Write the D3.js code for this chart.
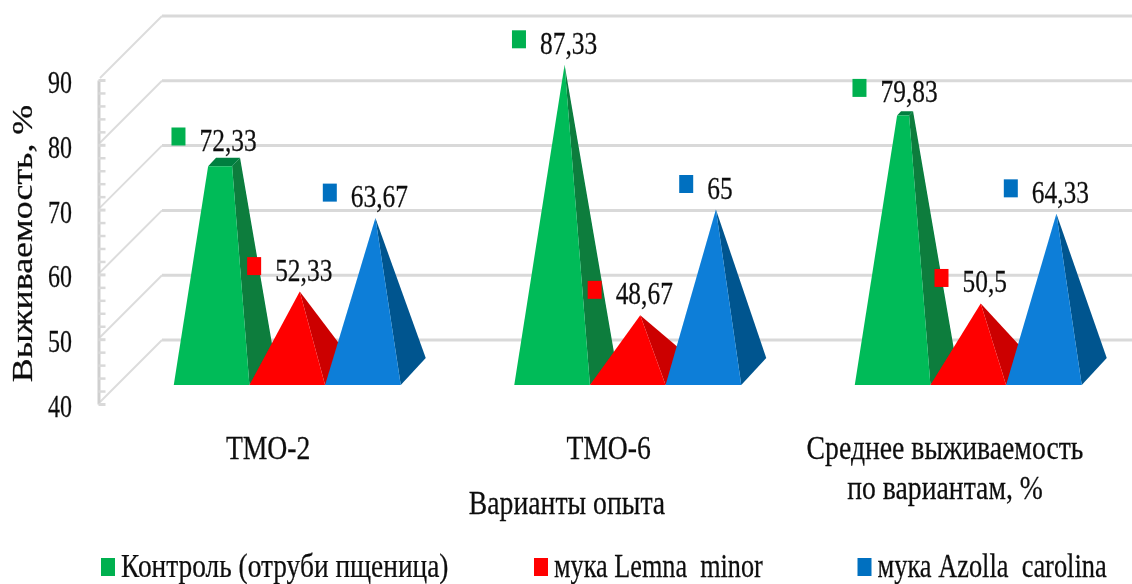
<!DOCTYPE html>
<html>
<head>
<meta charset="utf-8">
<script src="https://cdn.jsdelivr.net/npm/d3@7"></script>
<style>
  html, body { margin: 0; padding: 0; background: #fff; }
  svg { display: block; }
  text { font-family: "Liberation Serif", serif; fill: #111; stroke: #111; stroke-width: 0.25px; }
</style>
</head>
<body>
<svg class="chart"></svg>
<script>
// Datos del gráfico
var categories = ["ТМО-2", "ТМО-6", "Среднее выживаемость\nпо вариантам, %"];
var seriesNames = ["Контроль (отруби пщеница)", "мука Lemna  minor", "мука Azolla  carolina"];
var control = [72.33, 87.33, 79.83];
var lemna = [52.33, 48.67, 50.5];
var azolla = [63.67, 65, 64.33];
var yTicks = [40, 50, 60, 70, 80, 90];
var yMinorTicks = [42, 44, 46, 48, 52, 54, 56, 58, 62, 64, 66, 68, 72, 74, 76, 78, 82, 84, 86, 88];

var width = 1132, height = 584;
// El texto original está estirado en vertical: fuente grande y comprimida en X
var valueFont = 32, valueSqueeze = 0.795;
var tickFont = 32, tickSqueeze = 0.75;
var axisFont = 33, axisSqueeze = 0.84;
var legendFont = 33, legendSqueeze = [0.83, 0.795, 0.8];

var colors = [
  { front: "#05bb58", side: "#077d3d", top: "#067f3f", key: "#00b050" },
  { front: "#ff0000", side: "#cc0000", top: "#cc0000", key: "#ff0000" },
  { front: "#0a7ed8", side: "#02558f", top: "#02558f", key: "#0070c0" }
];

var svg = d3.select(".chart").attr("width", width).attr("height", height);

var defs = svg.append("defs");
defs.append("filter").attr("id", "soft")
  .attr("x", "-5%").attr("y", "-5%").attr("width", "110%").attr("height", "110%")
  .append("feGaussianBlur").attr("stdDeviation", 0.6);

var chart = svg.append("g").attr("filter", "url(#soft)");

// Escalas
var y = d3.scaleLinear().domain([40, 90]).range([404, 80]);
var x = d3.scaleBand().domain(categories).range([98, 1119.5]);
var xBar = d3.scaleBand().domain(d3.range(3)).range([x.bandwidth() / 6, x.bandwidth() * 5 / 6]);

// Profundidad de la pared y del suelo
var wallDepth = 64, floorInset = 19, barDepthX = 25, barDepthY = 27;

// Pared del fondo
chart.append("g").selectAll("line.grid")
  .data(yTicks)
  .enter().append("line")
    .attr("x1", 98 + wallDepth).attr("x2", width)
    .attr("y1", function(d) { return y(d) - wallDepth; })
    .attr("y2", function(d) { return y(d) - wallDepth; })
    .attr("stroke", "#d9d9d9").attr("stroke-width", 3);

chart.append("g").selectAll("line.wall")
  .data(yTicks)
  .enter().append("line")
    .attr("x1", 100).attr("x2", 98 + wallDepth)
    .attr("y1", function(d) { return y(d) - 2; })
    .attr("y2", function(d) { return y(d) - wallDepth; })
    .attr("stroke", "#dcdcdc").attr("stroke-width", 2);

// Eje Y: marcas menores, mayores y etiquetas
chart.append("g")
  .attr("transform", "translate(98.5,0)")
  .call(d3.axisRight(y).tickValues(yMinorTicks).tickSize(7).tickSizeOuter(0).tickFormat(""))
  .call(function(g) {
    g.selectAll("line").attr("stroke", "#d9d9d9").attr("stroke-width", 2.5);
    g.select(".domain").attr("stroke", "#cfcfcf").attr("stroke-width", 3);
  });

chart.append("g")
  .attr("transform", "translate(98.5,0)")
  .call(d3.axisRight(y).tickValues(yTicks).tickSize(7).tickFormat(""))
  .call(function(g) {
    g.selectAll("line").attr("stroke", "#d9d9d9").attr("stroke-width", 3);
    g.select(".domain").remove();
  });

chart.append("g").selectAll("text.ytick")
  .data(yTicks)
  .enter().append("text")
    .attr("text-anchor", "end")
    .attr("font-size", tickFont)
    .attr("transform", function(d) { return "translate(72," + (y(d) + 13) + ") scale(" + tickSqueeze + ",1)"; })
    .text(function(d) { return d; });

chart.append("text")
  .attr("text-anchor", "middle")
  .attr("font-size", 30)
  .attr("transform", "translate(32,243.5) rotate(-90) scale(1.195,1)")
  .text("Выживаемость, %");

// Pirámides: cada serie se dibuja entera, la siguiente tapa a la anterior
var seriesValues = [control, lemna, azolla];
var taperToSeriesMax = [true, false, false];
var polyLine = d3.line();

seriesValues.forEach(function(values, s) {
  var g = chart.append("g").attr("class", "series");
  var seriesMax = d3.max(values);

  values.forEach(function(v, c) {
    var baseY = y(40) - floorInset;
    var left = x(categories[c]) + floorInset + xBar(s);
    var w = xBar.bandwidth();
    var h = y(40) - y(v);
    var apexH = taperToSeriesMax[s] ? y(40) - y(seriesMax) : h;
    var t = h / apexH;

    // u: ancho (-1..1), d: fondo (-1 delante, 1 detrás), k: altura relativa
    function pt(u, d, k) {
      return [
        left + w / 2 + barDepthX / 2 + (1 - k) * (u * w / 2 + d * barDepthX / 2),
        baseY - barDepthY / 2 - apexH * k - (1 - k) * d * barDepthY / 2
      ];
    }

    g.append("path")
      .attr("d", polyLine([pt(1, -1, 0), pt(1, 1, 0), pt(1, 1, t), pt(1, -1, t)]) + "Z")
      .attr("fill", colors[s].side);
    if (t < 0.999) {
      g.append("path")
        .attr("d", polyLine([pt(-1, -1, t), pt(1, -1, t), pt(1, 1, t), pt(-1, 1, t)]) + "Z")
        .attr("fill", colors[s].top);
    }
    g.append("path")
      .attr("d", polyLine([pt(-1, -1, 0), pt(1, -1, 0), pt(1, -1, t), pt(-1, -1, t)]) + "Z")
      .attr("fill", colors[s].front);
  });
});

// Etiquetas de datos con su cuadradito de color
seriesValues.forEach(function(values, s) {
  values.forEach(function(v, c) {
    var apexX = x(categories[c]) + floorInset + xBar(s) + xBar.bandwidth() / 2 + barDepthX / 2;
    var baseline = y(v) - floorInset - barDepthY / 2 - 11;
    var textX = apexX + 4;

    var label = chart.append("text")
      .attr("text-anchor", "middle")
      .attr("font-size", valueFont)
      .attr("transform", "translate(" + textX + "," + baseline + ") scale(" + valueSqueeze + ",1)")
      .text(String(v).replace(".", ","));

    var textW = label.node().getComputedTextLength() * valueSqueeze;
    chart.append("rect")
      .attr("x", textX - textW / 2 - 28)
      .attr("y", baseline - 23.5)
      .attr("width", 14)
      .attr("height", 18)
      .attr("fill", colors[s].key);
  });
});

// Eje X
var xAxis = chart.append("g")
  .attr("transform", "translate(0,433)")
  .call(d3.axisBottom(x).tickSize(0).tickPadding(0));
xAxis.select(".domain").remove();
xAxis.selectAll("text").each(function(d) {
  var lines = d.split("\n");
  var t = d3.select(this).text(null)
    .attr("y", null).attr("dy", null)
    .attr("font-size", axisFont)
    .attr("font-family", "Liberation Serif")
    .attr("fill", "#111")
    .attr("transform", "scale(" + axisSqueeze + ",1)");
  lines.forEach(function(line, i) {
    t.append("tspan")
      .attr("x", lines.length > 1 ? -5 : 0)
      .attr("y", 26 + i * 40)
      .text(line);
  });
});

chart.append("text")
  .attr("text-anchor", "middle")
  .attr("font-size", axisFont)
  .attr("transform", "translate(567,514) scale(" + axisSqueeze + ",1)")
  .text("Варианты опыта");

// Leyenda
var legendX = d3.scaleOrdinal().domain(seriesNames).range([101, 534, 857.5]);
var legend = chart.append("g").selectAll("g")
  .data(seriesNames)
  .enter().append("g")
    .attr("transform", function(d) { return "translate(" + legendX(d) + ",0)"; });

legend.append("rect")
  .attr("y", 558).attr("width", 14).attr("height", 18)
  .attr("fill", function(d, i) { return colors[i].key; });

legend.append("text")
  .attr("font-size", legendFont)
  .style("white-space", "pre")
  .attr("transform", function(d, i) { return "translate(20,577) scale(" + legendSqueeze[i] + ",1)"; })
  .text(function(d) { return d; });
</script>
</body>
</html>
